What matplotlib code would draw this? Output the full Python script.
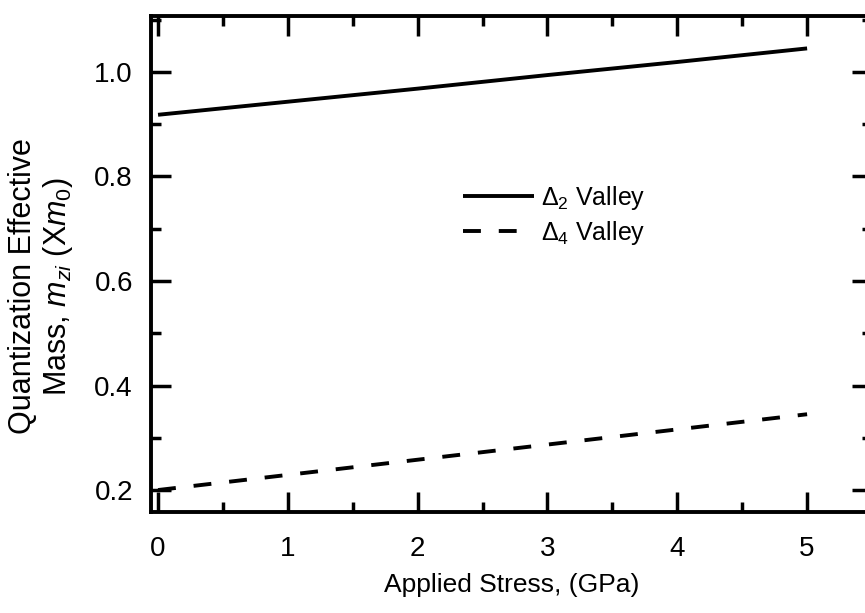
import numpy as np
import matplotlib
matplotlib.use('Agg')
from matplotlib import pyplot as plt
from matplotlib.ticker import MultipleLocator

plt.rcParams['font.family'] = ['Liberation Sans', 'DejaVu Sans']
plt.rcParams['mathtext.fontset'] = 'custom'
plt.rcParams['mathtext.rm'] = 'Liberation Sans'
plt.rcParams['mathtext.it'] = 'Liberation Sans:italic'

# data
stress = [0, 1, 2, 3, 4, 5]
delta2 = [0.918, 0.943, 0.968, 0.994, 1.019, 1.045]
delta4 = [0.200, 0.229, 0.258, 0.287, 0.316, 0.345]
labels = [r'$\Delta_2$ Valley', r'$\Delta_4$ Valley']

fig = plt.figure(figsize=(8.65, 6.13), dpi=100)
ax = fig.add_axes([0.1746, 0.1648, 0.8335, 0.8091])

ax.plot(stress, delta2, color='black', lw=2.8, label=labels[0], solid_capstyle='butt')
ax.plot(stress, delta4, color='black', lw=2.8, dashes=(4.6, 4.6), label=labels[1],
        dash_capstyle='butt')

ax.set_xlim(-0.054, 5.50)
ax.set_ylim(0.158, 1.107)

ax.xaxis.set_major_locator(MultipleLocator(1))
ax.xaxis.set_minor_locator(MultipleLocator(0.5))
ax.yaxis.set_minor_locator(MultipleLocator(0.1))
ax.set_yticks([0.2, 0.4, 0.6, 0.8, 1.0])
ax.set_yticklabels(['0.2', '0.4', '0.6', '0.8', '1.0'])

ax.tick_params(which='both', direction='in', top=True, right=True, width=2.5,
               labelsize=20, color='black')
ax.tick_params(which='major', length=14.5)
ax.tick_params(which='minor', length=7.5)
ax.tick_params(axis='x', which='major', pad=17)
ax.tick_params(axis='y', which='major', pad=13)
for s in ax.spines.values():
    s.set_linewidth(2.8)

ax.set_xlabel('Applied Stress, (GPa)', fontsize=19, labelpad=8)
ax.set_ylabel('Quantization Effective\nMass, $m_{zi}$ (X$m_0$)', fontsize=22,
              linespacing=1.1)
ax.yaxis.set_label_coords(-0.106, 0.455)

ax.legend(loc='upper left', bbox_to_anchor=(0.433, 0.662), frameon=False,
          fontsize=18, handlelength=2.85, handletextpad=0.25, borderpad=0,
          borderaxespad=0, labelspacing=0.3)

fig.savefig('out.png', dpi=100)
